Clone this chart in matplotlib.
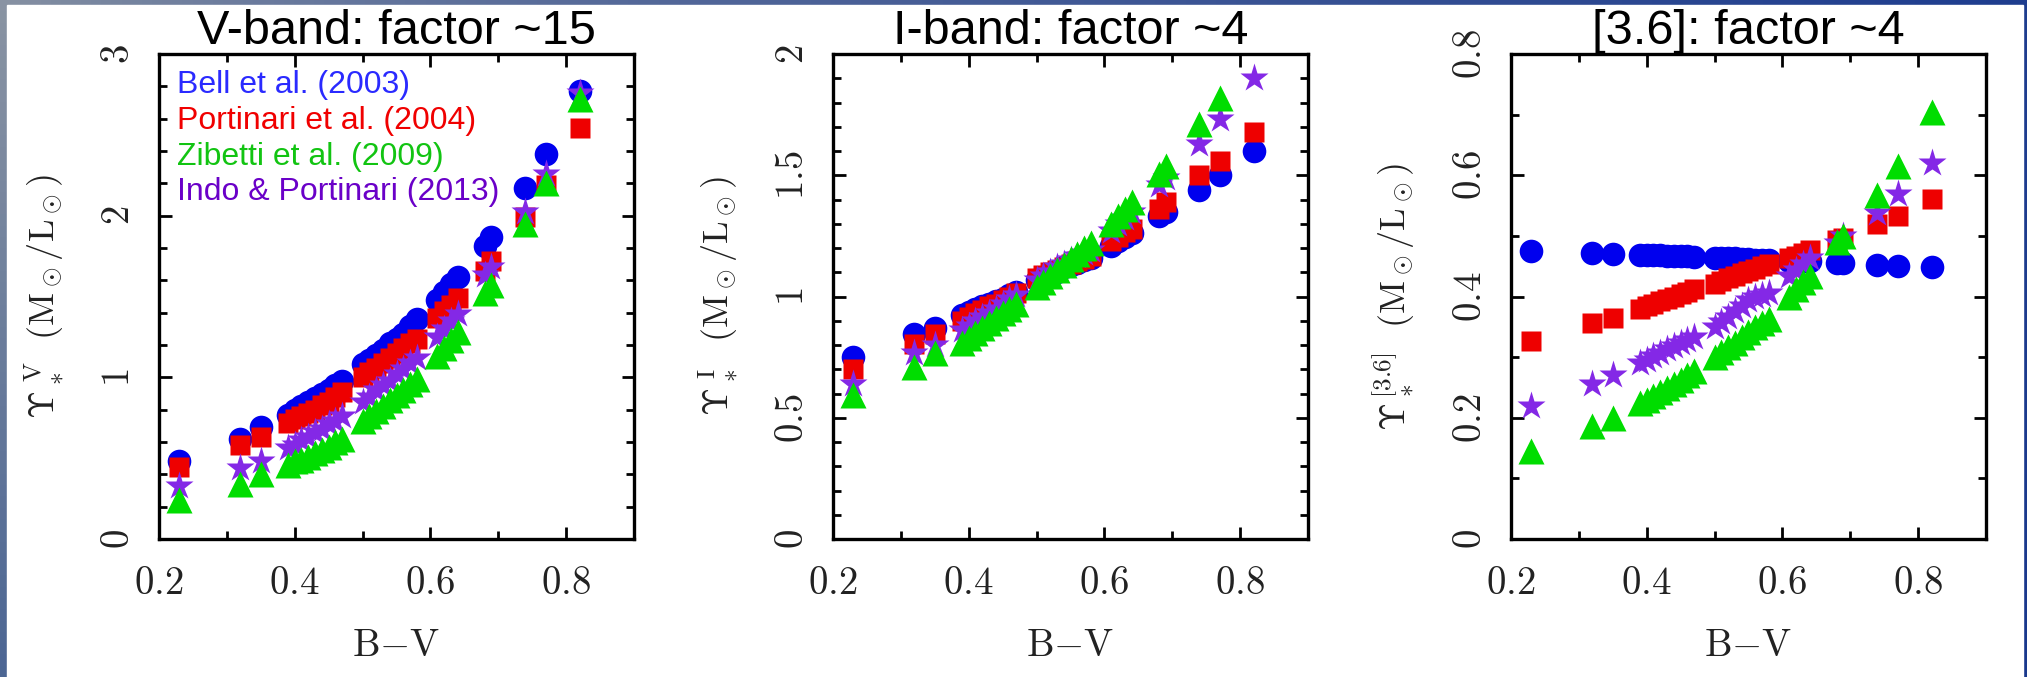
import numpy as np
import matplotlib.pyplot as plt
from matplotlib.patches import Rectangle
from matplotlib.ticker import MultipleLocator, FixedLocator, FixedFormatter

plt.rcParams['mathtext.fontset'] = 'cm'

# B-V colours of the sample
bv = [0.23, 0.32, 0.35,
      0.39, 0.40, 0.41, 0.42, 0.43, 0.44, 0.45, 0.46, 0.47,
      0.50, 0.51, 0.52, 0.53, 0.54, 0.55, 0.56, 0.57, 0.58,
      0.61, 0.62, 0.63, 0.64,
      0.68, 0.69, 0.74, 0.77, 0.82]

labels = ["Bell et al. (2003)", "Portinari et al. (2004)",
          "Zibetti et al. (2009)", "Indo & Portinari (2013)"]

# V band
v_bell = [0.48, 0.62, 0.69,
          0.77, 0.80, 0.82, 0.85, 0.87, 0.90, 0.92, 0.95, 0.98,
          1.08, 1.11, 1.14, 1.17, 1.21, 1.24, 1.27, 1.32, 1.36,
          1.48, 1.53, 1.58, 1.62,
          1.81, 1.87, 2.17, 2.38, 2.77]
v_port = [0.445, 0.58, 0.63,
          0.72, 0.74, 0.76, 0.78, 0.80, 0.83, 0.85, 0.88, 0.91,
          1.00, 1.03, 1.06, 1.09, 1.12, 1.15, 1.18, 1.21, 1.24,
          1.37, 1.41, 1.45, 1.49,
          1.66, 1.72, 1.99, 2.19, 2.54]
v_zib = [0.24, 0.34, 0.40,
         0.46, 0.48, 0.49, 0.51, 0.53, 0.55, 0.57, 0.60, 0.62,
         0.73, 0.76, 0.79, 0.82, 0.86, 0.89, 0.92, 0.96, 0.99,
         1.13, 1.18, 1.23, 1.28,
         1.52, 1.57, 1.95, 2.20, 2.72]
v_indo = [0.33, 0.44, 0.48,
          0.56, 0.58, 0.61, 0.63, 0.66, 0.68, 0.71, 0.73, 0.76,
          0.85, 0.88, 0.92, 0.95, 0.98, 1.02, 1.05, 1.09, 1.12,
          1.25, 1.30, 1.35, 1.39,
          1.63, 1.68, 2.02, 2.26, 2.76]

# I band
i_bell = [0.75, 0.845, 0.87,
          0.925, 0.935, 0.95, 0.96, 0.97, 0.98, 0.99, 1.005, 1.02,
          1.07, 1.08, 1.09, 1.10, 1.12, 1.13, 1.14, 1.15, 1.16,
          1.21, 1.23, 1.245, 1.26,
          1.33, 1.35, 1.44, 1.50, 1.60]
i_port = [0.70, 0.805, 0.845,
          0.90, 0.915, 0.93, 0.945, 0.96, 0.97, 0.985, 1.00, 1.015,
          1.075, 1.09, 1.10, 1.11, 1.12, 1.135, 1.145, 1.155, 1.165,
          1.23, 1.245, 1.265, 1.28,
          1.36, 1.39, 1.50, 1.56, 1.68]
i_zib = [0.595, 0.71, 0.765,
         0.81, 0.83, 0.85, 0.87, 0.89, 0.91, 0.93, 0.95, 0.97,
         1.04, 1.06, 1.085, 1.11, 1.13, 1.155, 1.175, 1.20, 1.22,
         1.30, 1.33, 1.36, 1.39,
         1.505, 1.54, 1.71, 1.82, 2.07]
i_indo = [0.64, 0.765, 0.80,
          0.86, 0.88, 0.90, 0.915, 0.93, 0.95, 0.97, 0.99, 1.005,
          1.07, 1.085, 1.10, 1.12, 1.135, 1.15, 1.165, 1.18, 1.19,
          1.27, 1.30, 1.325, 1.35,
          1.46, 1.49, 1.63, 1.73, 1.90]

# 3.6 micron
s_bell = [0.475, 0.471, 0.470,
          0.469, 0.469, 0.468, 0.468, 0.467, 0.467, 0.466, 0.466, 0.465,
          0.464, 0.464, 0.463, 0.463, 0.462, 0.462, 0.461, 0.461, 0.460,
          0.459, 0.459, 0.458, 0.458,
          0.455, 0.455, 0.452, 0.451, 0.449]
s_port = [0.327, 0.356, 0.364,
          0.380, 0.384, 0.388, 0.392, 0.396, 0.400, 0.404, 0.408, 0.412,
          0.421, 0.425, 0.430, 0.434, 0.438, 0.442, 0.446, 0.450, 0.453,
          0.463, 0.467, 0.471, 0.476,
          0.494, 0.497, 0.520, 0.533, 0.561]
s_zib = [0.145, 0.186, 0.200,
         0.224, 0.230, 0.236, 0.243, 0.249, 0.255, 0.262, 0.270, 0.277,
         0.300, 0.308, 0.316, 0.324, 0.333, 0.341, 0.349, 0.356, 0.363,
         0.400, 0.412, 0.424, 0.434,
         0.490, 0.500, 0.568, 0.616, 0.704]
s_indo = [0.220, 0.256, 0.270,
          0.291, 0.296, 0.302, 0.307, 0.313, 0.318, 0.323, 0.329, 0.334,
          0.349, 0.358, 0.367, 0.376, 0.385, 0.394, 0.400, 0.403, 0.406,
          0.434, 0.444, 0.454, 0.463,
          0.488, 0.499, 0.537, 0.569, 0.620]

W, H = 2027, 677
fig = plt.figure(figsize=(W / 100, H / 100), dpi=100)

# slide background: gradient frame with white page
bg = fig.add_axes([0, 0, 1, 1], zorder=-10)
bg.axis('off')
u = np.linspace(0, 1, 200)[None, :, None]
v = np.linspace(0, 1, 60)[:, None, None]
left = np.array([0.54, 0.58, 0.64]) * (1 - v) + np.array([0.30, 0.40, 0.58]) * v
right = np.array([0.12, 0.24, 0.56]) * (1 - v) + np.array([0.10, 0.22, 0.55]) * v
img = left * (1 - u ** 0.6) + right * u ** 0.6
bg.imshow(img, aspect='auto', extent=[0, 1, 0, 1])
bg.add_patch(Rectangle((7 / W, 0), (2023 - 7) / W, (H - 5) / H,
                       color='white', transform=bg.transAxes))
bg.set_xlim(0, 1)
bg.set_ylim(0, 1)

mk_col = ['#0000ee', '#ee0000', '#00dd00', '#8428e6']
txt_col = ['#2a2aff', '#f00000', '#12c412', '#6a00c8']
mk = {0: ('o', 17), 1: ('s', 15), 2: ('^', 19), 3: ('*', 21)}
order = [0, 1, 3, 2]  # Bell, Portinari, Indo, Zibetti on top

mlsun = r'\ \ (\mathrm{M}_\odot/\mathrm{L}_\odot)$'
panels = [
    (159, [v_bell, v_port, v_zib, v_indo], 3, 1, 0.2, ['0', '1', '2', '3'],
     r'$\Upsilon_*^{\ \mathrm{V}}' + mlsun, 'V-band: factor ~15'),
    (833, [i_bell, i_port, i_zib, i_indo], 2, 0.5, 0.1, ['0', '0.5', '1', '1.5', '2'],
     r'$\Upsilon_*^{\ \mathrm{I}}' + mlsun, 'I-band: factor ~4'),
    (1511, [s_bell, s_port, s_zib, s_indo], 0.8, 0.2, 0.1, ['0', '0.2', '0.4', '0.6', '0.8'],
     r'$\Upsilon_*^{\,[3.6]}' + mlsun, '[3.6]: factor ~4'),
]

for k, (x0, series, ymax, ymaj, ymin, ylabs, ylab, title) in enumerate(panels):
    ax = fig.add_axes([x0 / W, (H - 539) / H, 475 / W, 485 / H])
    for j in order:
        ax.plot(bv, series[j], linestyle='none', marker=mk[j][0], ms=mk[j][1],
                color=mk_col[j], mec='none')

    ax.set_xlim(0.2, 0.9)
    ax.set_ylim(0, ymax)
    ax.xaxis.set_major_locator(FixedLocator([0.2, 0.4, 0.6, 0.8]))
    ax.xaxis.set_major_formatter(FixedFormatter([r'$0.2$', r'$0.4$', r'$0.6$', r'$0.8$']))
    ax.xaxis.set_minor_locator(MultipleLocator(0.1))
    yt = [ymaj * n for n in range(len(ylabs))]
    ax.yaxis.set_major_locator(FixedLocator(yt))
    ax.yaxis.set_major_formatter(FixedFormatter(['$' + s + '$' for s in ylabs]))
    ax.yaxis.set_minor_locator(MultipleLocator(ymin))
    ax.tick_params(which='both', direction='in', top=True, right=True,
                   width=2, colors='black', labelcolor='#222222', labelsize=28)
    ax.tick_params(which='major', length=9)
    ax.tick_params(which='minor', length=6)
    ax.tick_params(axis='x', pad=18)
    ax.tick_params(axis='y', pad=16)
    for lbl in ax.get_yticklabels():
        lbl.set_rotation(90)
        lbl.set_va('center')
        lbl.set_ha('right')
    for sp in ax.spines.values():
        sp.set_linewidth(2.4)

    ax.set_xlabel(r'$\mathrm{B{-}V}$', fontsize=28, color='#222222')
    ax.xaxis.set_label_coords(0.5, -0.18)
    ax.set_ylabel(ylab, fontsize=26, color='#222222')
    ax.yaxis.set_label_coords(-0.195, 0.5)
    ax.set_title(title, fontsize=35, family='Liberation Sans', pad=7)

    if k == 0:
        for j, lab in enumerate(labels):
            ax.text(0.038, 0.92 - 0.074 * j, lab, transform=ax.transAxes,
                    fontsize=23, family='Liberation Sans', color=txt_col[j],
                    va='baseline', ha='left')

fig.savefig('out.png', dpi=100)
